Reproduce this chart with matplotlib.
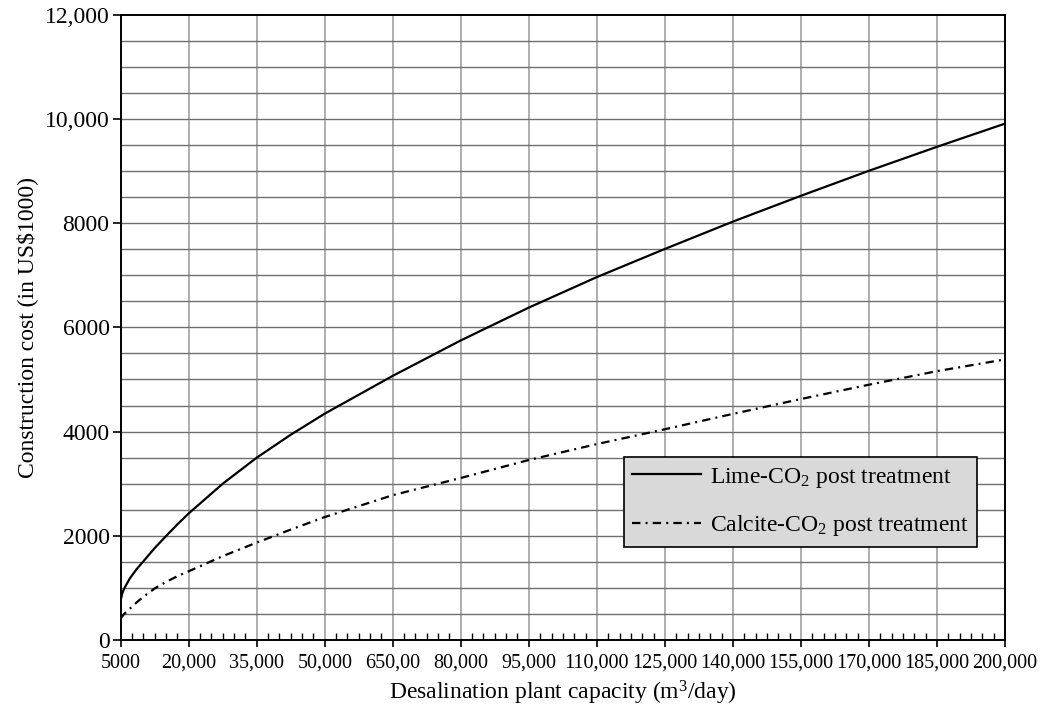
import matplotlib
matplotlib.use("Agg")
import matplotlib.pyplot as plt
from matplotlib.ticker import FixedLocator, MultipleLocator

plt.rcParams["font.family"] = ["Liberation Serif", "DejaVu Serif"]
plt.rcParams["mathtext.fontset"] = "custom"
plt.rcParams["mathtext.rm"] = "Liberation Serif"
plt.rcParams["mathtext.it"] = "Liberation Serif:italic"

# Plant capacity (m3/day) and construction cost (US$1000) for both post-treatment options
capacity = [5000, 5300, 5600, 6000, 7000, 8500, 10000, 12500, 15000, 17500,
            20000, 27500, 35000, 42500, 50000, 65000, 80000, 95000, 110000,
            125000, 140000, 155000, 170000, 185000, 200000]
lime_cost = [760, 880, 955, 1025, 1180, 1360, 1510, 1765, 1995, 2220,
             2430, 3000, 3500, 3940, 4345, 5070, 5750, 6380, 6965,
             7505, 8030, 8525, 9005, 9465, 9910]
calcite_cost = [410, 450, 485, 520, 600, 720, 830, 990, 1115, 1225,
                1320, 1610, 1870, 2120, 2360, 2780, 3110, 3455, 3760,
                4045, 4340, 4625, 4900, 5160, 5385]

x_ticks = [5000, 20000, 35000, 50000, 65000, 80000, 95000, 110000, 125000,
           140000, 155000, 170000, 185000, 200000]
x_tick_labels = ["5000", "20,000", "35,000", "50,000", "650,00", "80,000",
                 "95,000", "110,000", "125,000", "140,000", "155,000",
                 "170,000", "185,000", "200,000"]
y_ticks = [0, 2000, 4000, 6000, 8000, 10000, 12000]
y_tick_labels = ["0", "2000", "4000", "6000", "8000", "10,000", "12,000"]

series_labels = [r"Lime-CO$\mathregular{_2}$ post treatment",
                 r"Calcite-CO$\mathregular{_2}$ post treatment"]

FS = 17
FS_X = 14.5

fig = plt.figure(figsize=(10.45, 7.08), dpi=100)
ax = fig.add_axes([0.1155, 0.096, 0.8462, 0.8832])

ax.set_xlim(5000, 200000)
ax.set_ylim(0, 12000)

# grid: vertical at every labelled capacity, horizontal every 500
for xv in x_ticks[1:-1]:
    ax.axvline(xv, color="#999999", lw=1.1, zorder=1)
for yv in range(500, 12000, 500):
    ax.axhline(yv, color="#707070", lw=1.0, zorder=1)

ax.plot(capacity, lime_cost, color="black", lw=1.6, zorder=3,
        label=series_labels[0])
ax.plot(capacity, calcite_cost, color="black", lw=1.6, zorder=3,
        linestyle=(0, (3.8, 2.3, 0.9, 2.3)), label=series_labels[1])

ax.xaxis.set_major_locator(FixedLocator(x_ticks))
ax.set_xticklabels(x_tick_labels, fontsize=FS_X)
ax.xaxis.set_minor_locator(MultipleLocator(2500))
ax.yaxis.set_major_locator(FixedLocator(y_ticks))
ax.set_yticklabels(y_tick_labels, fontsize=FS)

ax.tick_params(axis="x", which="major", direction="out", length=5, width=1.2,
               pad=5, color="black")
ax.tick_params(axis="x", which="minor", direction="in", length=5, width=1.0,
               color="black")
ax.tick_params(axis="y", which="major", direction="out", length=6, width=1.2,
               pad=2, color="black")

for sp in ax.spines.values():
    sp.set_linewidth(1.4)
    sp.set_color("black")
    sp.set_zorder(4)

ax.set_xlabel(r"Desalination plant capacity (m$\mathregular{^3}$/day)",
              fontsize=FS, labelpad=4)
ax.set_ylabel(r"Construction cost (in US\$1000)", fontsize=FS, labelpad=5)

leg = ax.legend(loc="upper left", bbox_to_anchor=(0.569, 0.292),
                borderaxespad=0, fontsize=FS, frameon=True, fancybox=False,
                facecolor="#d9d9d9", edgecolor="black", framealpha=1,
                handlelength=2.9, handletextpad=0.4, labelspacing=1.0,
                borderpad=0.35)
leg.get_frame().set_linewidth(1.2)
leg.set_zorder(5)

fig.savefig("out.png", dpi=100)
